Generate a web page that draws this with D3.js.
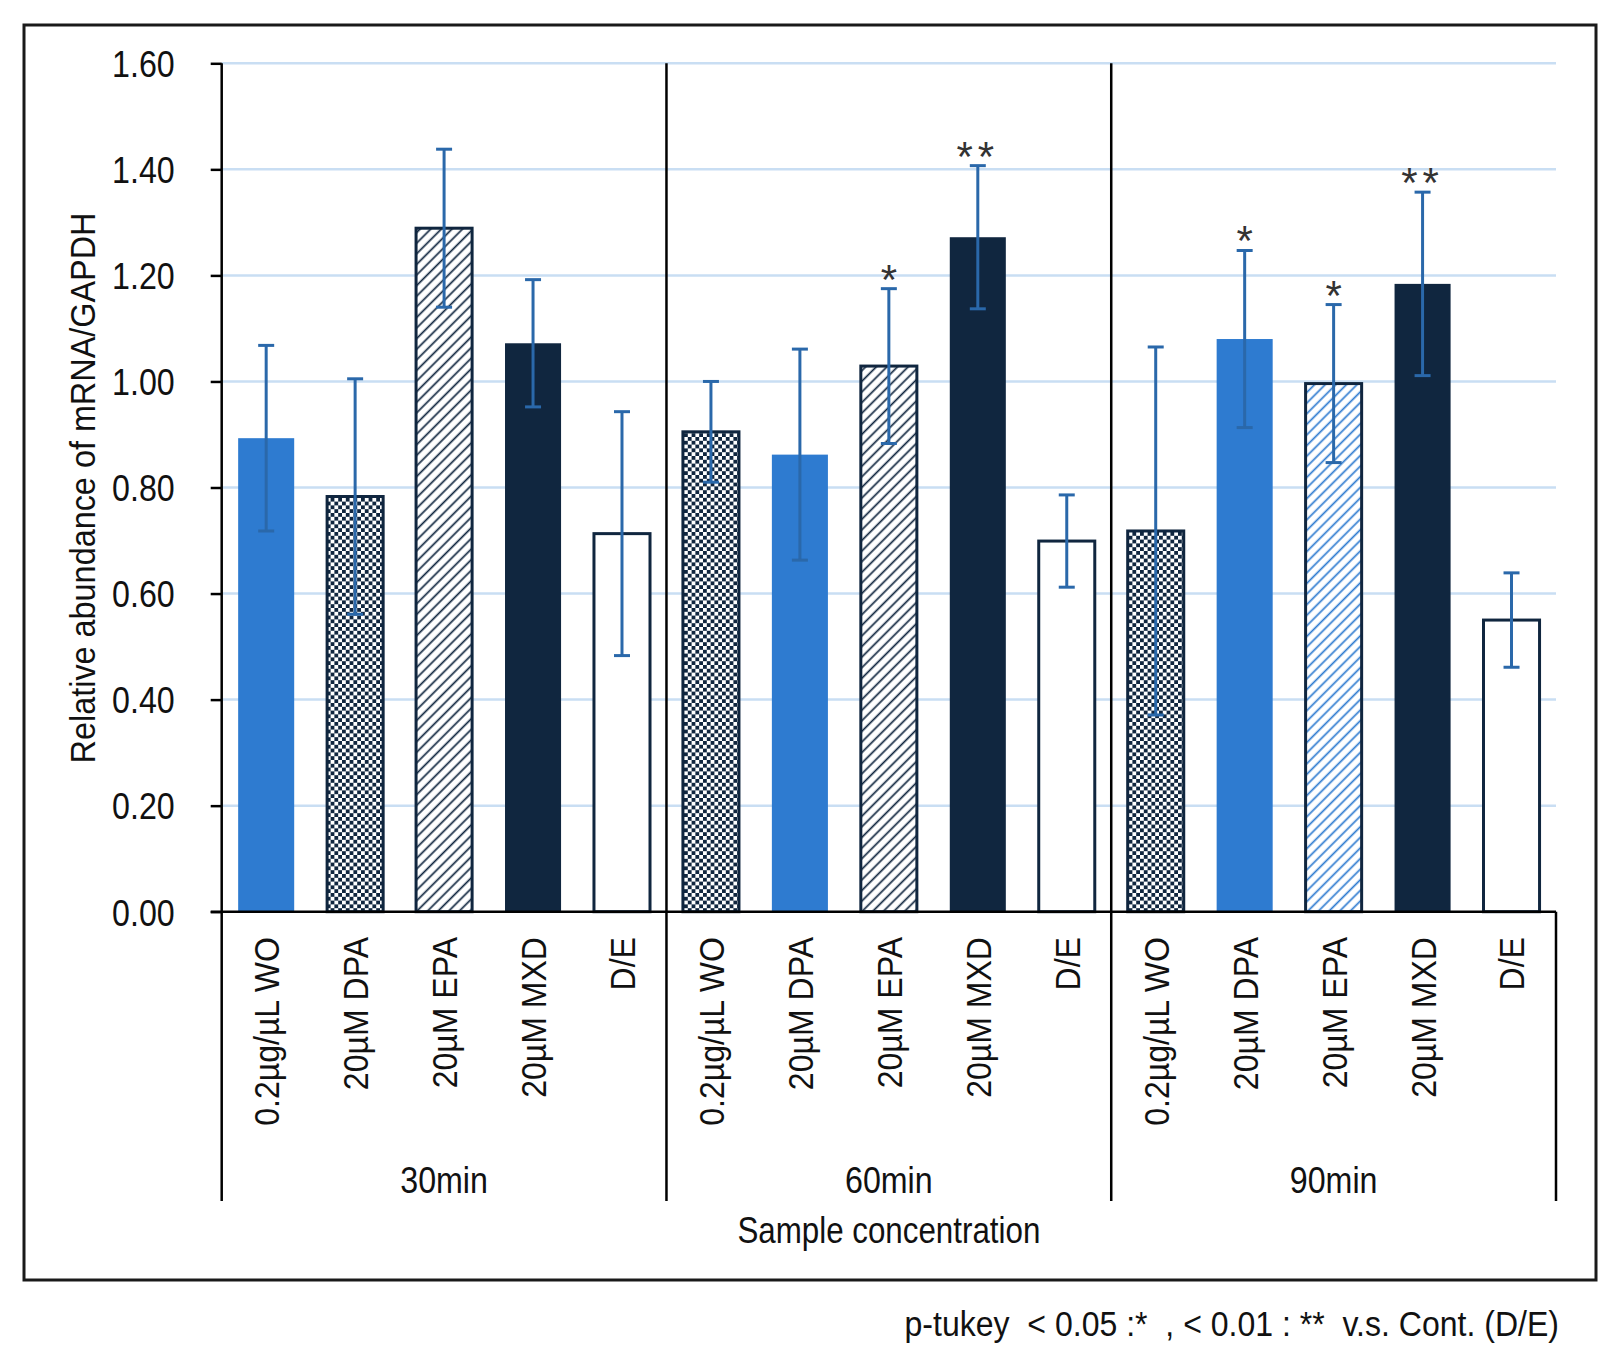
<!DOCTYPE html>
<html>
<head>
<meta charset="utf-8">
<script src="https://cdn.jsdelivr.net/npm/d3@7"></script>
<style>
  body { margin: 0; background: #fff; }
  text { font-family: "Liberation Sans", Arial, sans-serif; fill: #111; }
</style>
</head>
<body>
<div id="chart"></div>
<script>
// Chart data
const groups = ["30min", "60min", "90min"];
const samples = ["0.2µg/µL WO", "20µM DPA", "20µM EPA", "20µM MXD", "D/E"];

const means30 = [0.893, 0.783, 1.289, 1.072, 0.713];
const sd30    = [0.175, 0.222, 0.149, 0.120, 0.230];
const means60 = [0.905, 0.862, 1.029, 1.272, 0.699];
const sd60    = [0.095, 0.199, 0.146, 0.135, 0.087];
const means90 = [0.718, 1.080, 0.996, 1.184, 0.550];
const sd90    = [0.347, 0.167, 0.149, 0.173, 0.089];

const fills30 = ["blue", "checker", "hatch", "navy", "white"];
const fills60 = ["checker", "blue", "hatch", "navy", "white"];
const fills90 = ["checker", "blue", "hatchBlue", "navy", "white"];

const sig30 = ["", "", "", "", ""];
const sig60 = ["", "", "*", "**", ""];
const sig90 = ["", "*", "*", "**", ""];

const yTicks = [0, 0.2, 0.4, 0.6, 0.8, 1.0, 1.2, 1.4, 1.6];
const yTitle = "Relative abundance of mRNA/GAPDH";
const xTitle = "Sample concentration";
const footnote = "p-tukey  < 0.05 :*  , < 0.01 : **  v.s. Cont. (D/E)";

// Build rows for drawing
const seriesByGroup = [
    { means: means30, sd: sd30, fills: fills30, sig: sig30 },
    { means: means60, sd: sd60, fills: fills60, sig: sig60 },
    { means: means90, sd: sd90, fills: fills90, sig: sig90 }
];
const rows = [];
groups.forEach((g, gi) => {
    samples.forEach((s, si) => {
        const src = seriesByGroup[gi];
        rows.push({ group: g, sample: s, mean: src.means[si], sd: src.sd[si], fill: src.fills[si], sig: src.sig[si] });
    });
});

const W = 1614, H = 1362;
const plotL = 221.7, plotR = 1556, plotT = 63.3, plotB = 911.7;
const SX = 0.87; // narrow look of the original font

const BLUE = "#2e7bd0", NAVY = "#10263f", ERR = "#2a68aa", GRID = "#c9def3";

const svg = d3.select("#chart").append("svg")
    .attr("width", W).attr("height", H)
    .style("display", "block");

svg.append("rect").attr("width", W).attr("height", H).attr("fill", "#fff");

// patterns
const defs = svg.append("defs");
const checker = defs.append("pattern")
    .attr("id", "checker").attr("patternUnits", "userSpaceOnUse")
    .attr("width", 7.6).attr("height", 7.6);
checker.append("rect").attr("width", 7.6).attr("height", 7.6).attr("fill", "#fff");
checker.append("rect").attr("width", 3.8).attr("height", 3.8).attr("fill", NAVY);
checker.append("rect").attr("x", 3.8).attr("y", 3.8).attr("width", 3.8).attr("height", 3.8).attr("fill", NAVY);

function hatch(id, color) {
    const p = defs.append("pattern")
        .attr("id", id).attr("patternUnits", "userSpaceOnUse")
        .attr("width", 7.5).attr("height", 7.5)
        .attr("patternTransform", "rotate(45)");
    p.append("rect").attr("width", 7.5).attr("height", 7.5).attr("fill", "#fff");
    p.append("line").attr("x1", 1.5).attr("x2", 1.5).attr("y1", 0).attr("y2", 7.5)
        .attr("stroke", color).attr("stroke-width", 1.7);
}
hatch("hatch", NAVY);
hatch("hatchBlue", BLUE);

const fillFor = {
    blue: BLUE, navy: NAVY, white: "#fff",
    checker: "url(#checker)", hatch: "url(#hatch)", hatchBlue: "url(#hatchBlue)"
};
const strokeFor = { blue: "none", navy: "none", white: NAVY, checker: NAVY, hatch: NAVY, hatchBlue: NAVY };

// outer frame
svg.append("rect")
    .attr("x", 24).attr("y", 25).attr("width", 1596 - 24).attr("height", 1280 - 25)
    .attr("fill", "none").attr("stroke", "#1a1a1a").attr("stroke-width", 3);

// scales
const x0 = d3.scaleBand().domain(groups).range([plotL, plotR]).paddingInner(0).paddingOuter(0);
const x1 = d3.scaleBand().domain(samples).range([0, x0.bandwidth()]).paddingInner(0.37).paddingOuter(0.185);
const y = d3.scaleLinear().domain([0, 1.6]).range([plotB, plotT]);

// gridlines
svg.append("g").selectAll("line").data(yTicks.filter(t => t > 0)).join("line")
    .attr("x1", plotL).attr("x2", plotR)
    .attr("y1", d => y(d)).attr("y2", d => y(d))
    .attr("stroke", GRID).attr("stroke-width", 2.5);

// y axis
const yAxis = svg.append("g")
    .attr("transform", `translate(${plotL},0)`)
    .call(d3.axisLeft(y).tickValues(yTicks).tickFormat(d3.format(".2f")).tickSize(11).tickPadding(0));
yAxis.select(".domain").attr("stroke", "#000").attr("stroke-width", 2.5).attr("d", `M0,${plotT}V${plotB}`);
yAxis.selectAll(".tick line").attr("stroke", "#000").attr("stroke-width", 2.5);
yAxis.selectAll(".tick text").remove();
yAxis.selectAll(".tick").append("text")
    .attr("transform", `translate(-47,0) scale(${SX},1)`)
    .attr("text-anchor", "end")
    .attr("dy", "0.36em")
    .attr("font-size", 37)
    .text(d => d3.format(".2f")(d));

// group separators inside plot
svg.append("g").selectAll("line").data(groups.slice(1)).join("line")
    .attr("x1", d => x0(d)).attr("x2", d => x0(d))
    .attr("y1", plotT).attr("y2", plotB)
    .attr("stroke", "#000").attr("stroke-width", 2.5);

// bars
const barG = svg.append("g");
barG.selectAll("rect").data(rows).join("rect")
    .attr("x", d => x0(d.group) + x1(d.sample))
    .attr("width", x1.bandwidth())
    .attr("y", d => y(d.mean))
    .attr("height", d => y(0) - y(d.mean))
    .attr("fill", d => fillFor[d.fill])
    .attr("stroke", d => strokeFor[d.fill])
    .attr("stroke-width", 3);

// error bars
const errG = svg.append("g").attr("stroke", ERR).attr("stroke-width", 3);
const cx = d => x0(d.group) + x1(d.sample) + x1.bandwidth() / 2;
errG.selectAll("line.v").data(rows).join("line").attr("class", "v")
    .attr("x1", cx).attr("x2", cx)
    .attr("y1", d => y(d.mean + d.sd)).attr("y2", d => y(d.mean - d.sd));
errG.selectAll("line.hi").data(rows).join("line").attr("class", "hi")
    .attr("x1", d => cx(d) - 8).attr("x2", d => cx(d) + 8)
    .attr("y1", d => y(d.mean + d.sd)).attr("y2", d => y(d.mean + d.sd));
errG.selectAll("line.lo").data(rows).join("line").attr("class", "lo")
    .attr("x1", d => cx(d) - 8).attr("x2", d => cx(d) + 8)
    .attr("y1", d => y(d.mean - d.sd)).attr("y2", d => y(d.mean - d.sd));

// significance marks
svg.append("g").selectAll("text").data(rows.filter(d => d.sig)).join("text")
    .attr("x", cx)
    .attr("y", d => y(d.mean + d.sd) + 5)
    .attr("text-anchor", "middle")
    .attr("font-size", 42)
    .attr("letter-spacing", d => d.sig.length > 1 ? 5 : 0)
    .style("fill", "#333")
    .text(d => d.sig);

// x axis line
svg.append("line")
    .attr("x1", plotL - 11).attr("x2", plotR)
    .attr("y1", plotB).attr("y2", plotB)
    .attr("stroke", "#000").attr("stroke-width", 2.5);

// separators below axis
const sepX = groups.map(g => x0(g)).concat([plotR]);
svg.append("g").selectAll("line").data(sepX).join("line")
    .attr("x1", d => d).attr("x2", d => d)
    .attr("y1", plotB).attr("y2", 1201)
    .attr("stroke", "#000").attr("stroke-width", 2.5);

// category labels (rotated)
svg.append("g").selectAll("text").data(rows).join("text")
    .attr("transform", d => `translate(${cx(d)},937) rotate(-90) scale(0.89,1)`)
    .attr("text-anchor", "end")
    .attr("dy", "0.36em")
    .attr("font-size", 36)
    .text(d => d.sample);

// group labels
svg.append("g").selectAll("text").data(groups).join("text")
    .attr("transform", d => `translate(${x0(d) + x0.bandwidth() / 2},1193) scale(${SX},1)`)
    .attr("text-anchor", "middle")
    .attr("font-size", 37)
    .text(d => d);

// axis titles
svg.append("text")
    .attr("transform", `translate(${(plotL + plotR) / 2},1243) scale(${SX},1)`)
    .attr("text-anchor", "middle")
    .attr("font-size", 36)
    .text(xTitle);

svg.append("text")
    .attr("transform", `translate(82,488) rotate(-90) scale(0.9,1)`)
    .attr("text-anchor", "middle")
    .attr("dy", "0.36em")
    .attr("font-size", 36)
    .text(yTitle);

// footnote
svg.append("text")
    .attr("transform", `translate(1559,1336) scale(0.89,1)`)
    .attr("text-anchor", "end")
    .attr("font-size", 36)
    .style("white-space", "pre")
    .text(footnote);
</script>
</body>
</html>
